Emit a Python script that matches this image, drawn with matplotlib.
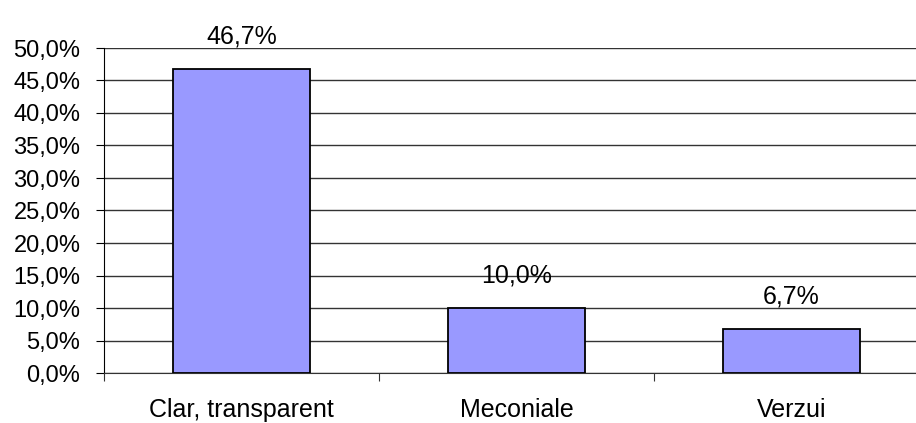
import matplotlib
matplotlib.use("Agg")
import matplotlib.pyplot as plt

# data
categories = ["Clar, transparent", "Meconiale", "Verzui"]
values = [46.7, 10.0, 6.7]
yticks = [0, 5, 10, 15, 20, 25, 30, 35, 40, 45, 50]


def pct(v):
    return f"{v:.1f}%".replace(".", ",")


plt.rcParams['font.family'] = ['Liberation Sans', 'DejaVu Sans']
FS = 18

fig = plt.figure(figsize=(9.16, 4.23), dpi=100)
ax = fig.add_axes([104 / 916, 50 / 423, 825 / 916, 325 / 423])

x = list(range(len(categories)))
ax.bar(x, values, width=0.5, color="#9999FF", edgecolor="black",
       linewidth=1.3, zorder=3)

for xi, v in zip(x, values):
    ax.annotate(pct(v), (xi, v), xytext=(0, 15), textcoords="offset points",
                ha="center", va="bottom", fontsize=FS)

ax.set_xlim(-0.5, 2.5)
ax.set_ylim(0, 50)
ax.set_yticks(yticks)
ax.set_yticklabels([pct(t) for t in yticks], fontsize=17)
ax.yaxis.grid(True, color="#333333", linewidth=1.0, zorder=0)
ax.set_axisbelow(True)

# category boundaries as major ticks, labels on minor ticks
ax.set_xticks([-0.5, 0.5, 1.5, 2.5])
ax.set_xticklabels([])
ax.set_xticks(x, minor=True)
ax.set_xticklabels(categories, minor=True, fontsize=FS)
ax.tick_params(axis="x", which="major", length=6, color="#333333")
ax.tick_params(axis="x", which="minor", length=0, pad=18)
ax.tick_params(axis="y", length=6, pad=11)

ax.spines["top"].set_visible(False)
ax.spines["right"].set_visible(False)
ax.spines["left"].set_color("black")
ax.spines["bottom"].set_color("#333333")

fig.savefig("out.png", dpi=100)
